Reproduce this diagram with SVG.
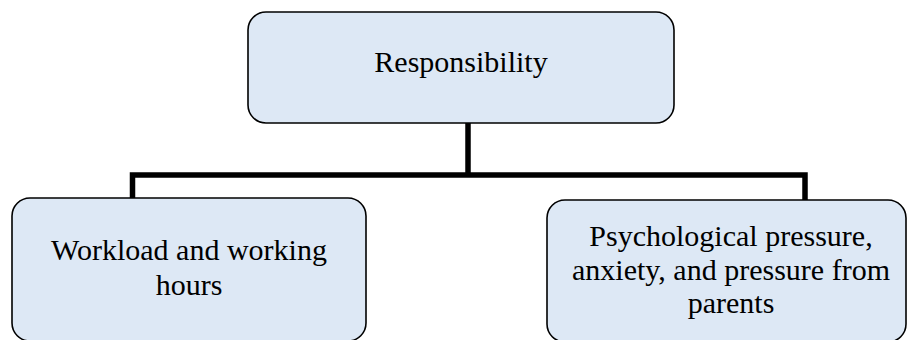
<svg xmlns="http://www.w3.org/2000/svg" width="907" height="340" viewBox="0 0 907 340">
  <style>
    .box { fill: #DDE8F5; stroke: #000; stroke-width: 1.6; }
    .lbl { font-family: "Liberation Serif", "Times New Roman", serif; font-size: 30px; fill: #000; text-anchor: middle; }
    .conn { fill: none; stroke: #000; stroke-width: 5.5; }
  </style>
  <rect width="907" height="340" fill="#fff"/>
  <g id="connectors">
    <path class="conn" d="M468,123 V175"/>
    <path class="conn" d="M132.5,198 V175 H805 V200"/>
  </g>
  <g id="node-responsibility">
    <rect class="box" x="248" y="12" width="426" height="111" rx="18" ry="18"/>
    <text class="lbl" x="461" y="72">Responsibility</text>
  </g>
  <g id="node-workload">
    <rect class="box" x="12" y="198" width="354" height="143" rx="18" ry="18"/>
    <text class="lbl" x="189" y="260">Workload and working</text>
    <text class="lbl" x="189" y="295">hours</text>
  </g>
  <g id="node-psychological">
    <rect class="box" x="547" y="200" width="359" height="142" rx="18" ry="18"/>
    <text class="lbl" x="731" y="246">Psychological pressure,</text>
    <text class="lbl" x="731" y="280">anxiety, and pressure from</text>
    <text class="lbl" x="731" y="313">parents</text>
  </g>
</svg>
